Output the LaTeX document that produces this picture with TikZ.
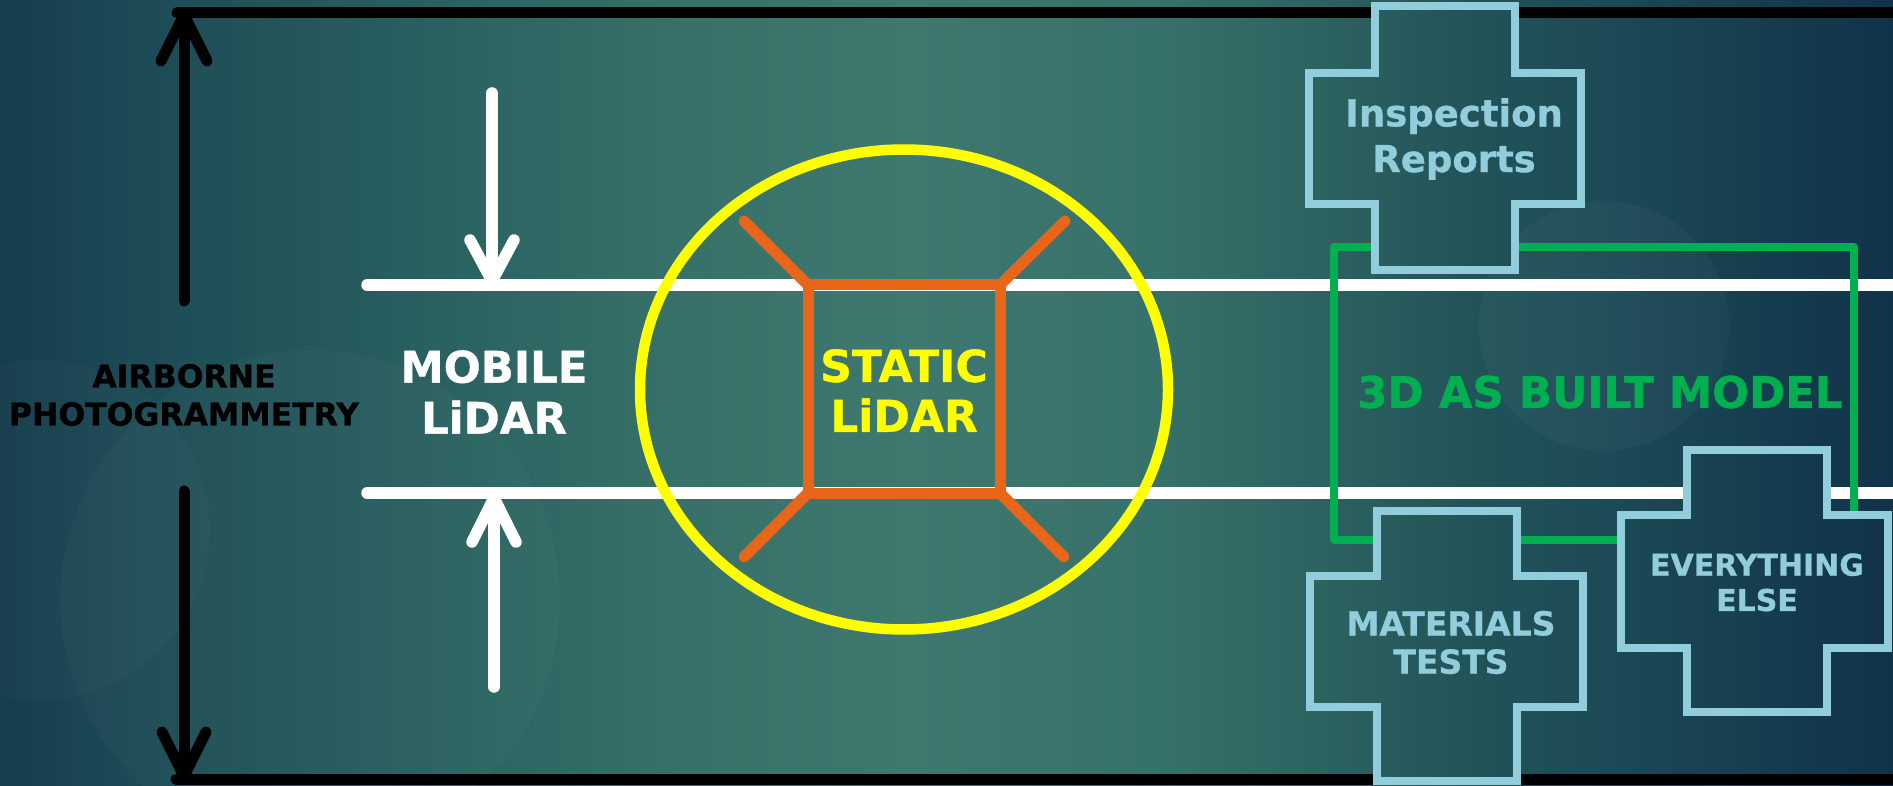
\documentclass[tikz,border=0pt]{standalone}
\usepackage{fontspec}
\setmainfont{DejaVu Sans}[BoldFeatures={FakeBold=0.9}]
\usetikzlibrary{calc}
\definecolor{bgc0}{HTML}{163D4C}
\definecolor{bgc1}{HTML}{1C4A55}
\definecolor{bgc2}{HTML}{2C6562}
\definecolor{bgc3}{HTML}{367068}
\definecolor{bgc4}{HTML}{3E786F}
\definecolor{bgc5}{HTML}{37716B}
\definecolor{bgc6}{HTML}{2D6461}
\definecolor{bgc7}{HTML}{235459}
\definecolor{bgc8}{HTML}{1C4A56}
\definecolor{bgc9}{HTML}{143A4D}
\definecolor{bgc10}{HTML}{11334A}
\definecolor{linecyan}{HTML}{92CDDC}
\definecolor{mygreen}{HTML}{00B050}
\definecolor{myorange}{HTML}{E8661A}
\definecolor{myyellow}{HTML}{FFFF00}
\pgfdeclarehorizontalshading{bgshade}{100bp}{color(0bp)=(bgc0); color(25bp)=(bgc0); color(28.5bp)=(bgc1); color(38bp)=(bgc2); color(42.5bp)=(bgc3); color(49bp)=(bgc4); color(55.5bp)=(bgc5); color(59.5bp)=(bgc6); color(63.5bp)=(bgc7); color(67.5bp)=(bgc8); color(72.5bp)=(bgc9); color(75bp)=(bgc10); color(100bp)=(bgc10)}
% cross outline: vertical arm x #1..#2, y #3..#4 ; horizontal arm x #5..#6, y #7..#8
\newcommand\crosspath[8]{(#1,#3) -- (#2,#3) -- (#2,#7) -- (#6,#7) -- (#6,#8) -- (#2,#8) -- (#2,#4) -- (#1,#4) -- (#1,#8) -- (#5,#8) -- (#5,#7) -- (#1,#7) -- cycle}
\newcommand\filledcross[8]{%
  \begin{scope}
    \clip \crosspath{#1}{#2}{#3}{#4}{#5}{#6}{#7}{#8};
    \shade[shading=bgshade] (0,0) rectangle (1893,786);
  \end{scope}
  \draw[crs] \crosspath{#1}{#2}{#3}{#4}{#5}{#6}{#7}{#8};
}
\begin{document}
\begin{tikzpicture}[x=1pt,y=-1pt,
  blk/.style={line width=11pt, black, line cap=round, line join=round},
  wht/.style={line width=11.5pt, white, line cap=round, line join=round},
  org/.style={line width=11pt, myorange, line cap=round, line join=round},
  ylw/.style={line width=10.5pt, myyellow},
  grn/.style={line width=7.5pt, mygreen, line join=round},
  crs/.style={line width=8pt, linecyan, line join=miter},
  lbl/.style={inner sep=0pt, align=center},
]
\useasboundingbox (0,0) rectangle (1893,786);
% background
\shade[shading=bgshade] (0,0) rectangle (1893,786);
\fill[white, opacity=0.02] (40,530) circle[radius=170pt];
\fill[white, opacity=0.022] (310,600) circle[radius=250pt];
\fill[white, opacity=0.03] (1604,326) circle[radius=125pt];

% black frame lines and arrows (airborne)
\coordinate (tl) at (177,13);
\coordinate (tr) at (1893,13);
\coordinate (bl) at (176,779);
\coordinate (br) at (1893,779);
\coordinate (upS) at (184,301);
\coordinate (upT) at (184,15);
\coordinate (dnS) at (184,491);
\coordinate (dnT) at (184,776);
\draw[blk] (tl) -- (tr);
\draw[blk] (bl) -- (br);
\draw[blk] (upS) -- (upT);
\draw[blk] ($(upT)+(-23,46)$) -- (upT) -- ($(upT)+(23,46)$);
\draw[blk] (dnS) -- (dnT);
\draw[blk] ($(dnT)+(-22,-44)$) -- (dnT) -- ($(dnT)+(22,-44)$);

% white lines and arrows (mobile)
\coordinate (w1l) at (367,285);
\coordinate (w1r) at (1893,285);
\coordinate (w2l) at (367,493);
\coordinate (w2r) at (1893,493);
\draw[wht] (w1l) -- (w1r);
\draw[wht] (w2l) -- (w2r);
\coordinate (wdS) at (492,93);
\coordinate (wdT) at (492,281);
\coordinate (wuS) at (494,687);
\coordinate (wuT) at (494,498);
\draw[wht] (wdS) -- (wdT);
\draw[wht] ($(wdT)+(-22,-41)$) -- (wdT) -- ($(wdT)+(22,-41)$);
\draw[wht] (wuS) -- (wuT);
\draw[wht] ($(wuT)+(-22,44)$) -- (wuT) -- ($(wuT)+(22,44)$);

% green model frame
\draw[grn] (1334,247) rectangle (1854,540);

% static lidar
\coordinate (sq1) at (808,285);
\coordinate (sq2) at (1000,285);
\coordinate (sq3) at (1000,493);
\coordinate (sq4) at (808,493);
\draw[org] (sq1) -- (sq2) -- (sq3) -- (sq4) -- cycle;
\draw[org] (sq1) -- (744,221);
\draw[org] (sq2) -- (1065,221);
\draw[org] (sq3) -- (1064,557);
\draw[org] (sq4) -- (744,557);
\draw[ylw] (904,389.5) ellipse [x radius=264pt, y radius=240pt];

% crosses
\filledcross{1375}{1515}{6}{270}{1309}{1581}{73}{204}
\filledcross{1377}{1517}{511}{781}{1310}{1583}{576}{707}
\filledcross{1687}{1827}{450}{712}{1621}{1888}{515}{648}

% labels
\node[lbl, font={\fontsize{31.5}{38}\selectfont\bfseries}, text=black] (airb) at (184,395) {AIRBORNE\\PHOTOGRAMMETRY};
\node[lbl, font={\fontsize{43.5}{51}\selectfont\bfseries}, text=white] (mob) at (494,392) {MOBILE\\LiDAR};
\node[lbl, font={\fontsize{44}{50}\selectfont\bfseries}, text=myyellow] (stat) at (904,390.5) {STATIC\\LiDAR};
\node[lbl, font={\fontsize{43.5}{51}\selectfont\bfseries}, text=mygreen] (model) at (1600,392) {3D AS BUILT MODEL};
\node[lbl, font={\fontsize{37}{45.7}\selectfont\bfseries}, text=linecyan] (insp) at (1454,139) {Inspection\\Reports};
\node[lbl, font={\fontsize{33}{38.3}\selectfont\bfseries}, text=linecyan] (mat) at (1451,642.5) {MATERIALS\\TESTS};
\node[lbl, font={\fontsize{30}{35.3}\selectfont\bfseries}, text=linecyan] (every) at (1757,582.4) {EVERYTHING\\ELSE};
\end{tikzpicture}
\end{document}
